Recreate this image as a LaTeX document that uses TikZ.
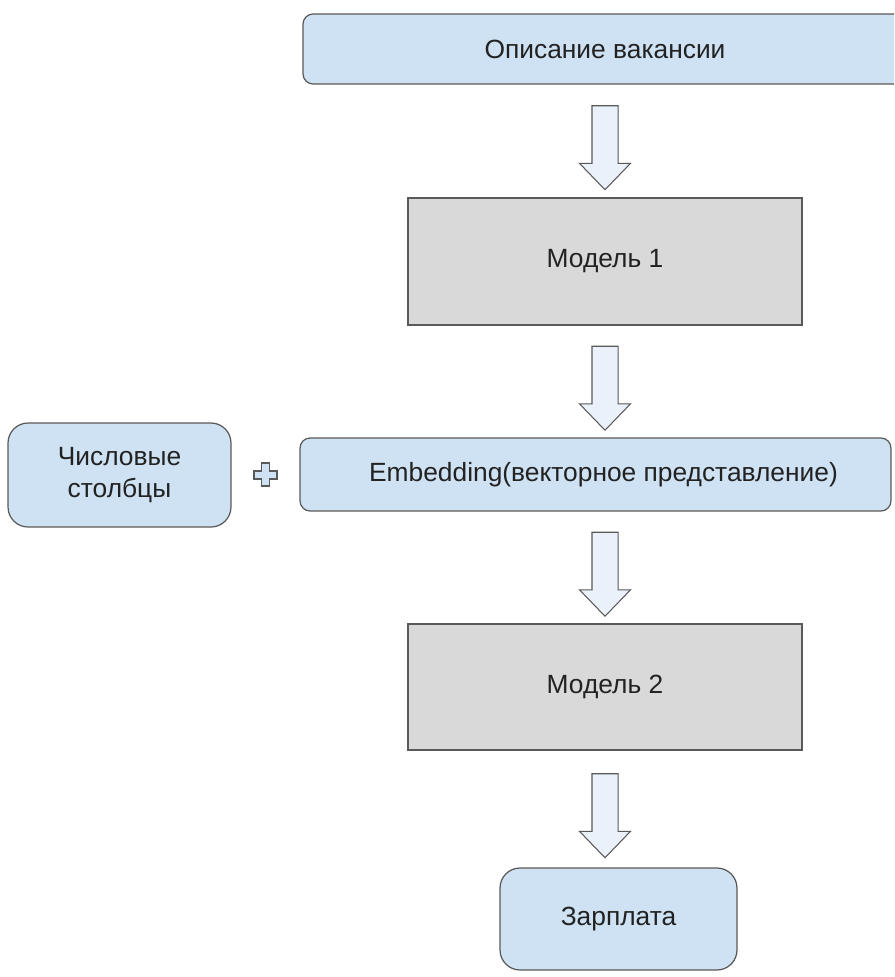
\documentclass[tikz,border=0pt]{standalone}
\usepackage{fontspec}
\setmainfont{Liberation Sans}
\usetikzlibrary{positioning,calc,shapes.arrows}
\definecolor{boxblue}{HTML}{CFE2F3}
\definecolor{boxgray}{HTML}{D9D9D9}
\definecolor{arrowfill}{HTML}{EAF1FA}
\definecolor{edge}{HTML}{595959}
\definecolor{txt}{HTML}{222222}
\begin{document}
\begin{tikzpicture}[x=0.02cm,y=-0.02cm,
  every node/.style={font=\fontsize{15}{18}\selectfont,text=txt,align=center},
  bluebox/.style={draw=edge,line width=0.7pt,fill=boxblue,rounded corners=#1},
  bluebox/.default=0.2cm,
  graybox/.style={draw=edge,line width=0.7pt,fill=boxgray},
  flowarrow/.style={single arrow,draw=edge,line width=0.6pt,fill=arrowfill,
    shape border rotate=270,minimum height=1.68cm,minimum width=1cm,
    inner sep=0.25cm,single arrow head extend=0.25cm,single arrow tip angle=88},
  plusmark/.style={draw=edge,line width=0.9pt,fill=boxblue}]
\clip (0,0) rectangle (894,977);
\node[bluebox,minimum width=12.08cm,minimum height=1.4cm] (desc) at (605,49) {Описание вакансии};
\node[graybox,minimum width=7.88cm,minimum height=2.54cm] (m1) at (605,261.5) {Модель 1};
\node[bluebox,minimum width=11.82cm,minimum height=1.46cm] (embed) at (595.5,474.5) {\hspace*{0.32cm}Embedding(векторное представление)};
\node[bluebox=0.4cm,minimum width=4.46cm,minimum height=2.08cm] (num) at (119.5,475) {Числовые\\столбцы};
\node[graybox,minimum width=7.88cm,minimum height=2.52cm] (m2) at (605,687) {Модель 2};
\node[bluebox=0.4cm,minimum width=4.74cm,minimum height=2.04cm] (salary) at (618.5,919) {Зарплата};
\node[flowarrow] (a1) at ($(desc.south -| m1)!0.5!(m1.north)$) {};
\node[flowarrow] (a2) at ($(m1.south)!0.5!(embed.north -| m1)$) {};
\node[flowarrow] (a3) at ($(embed.south -| m2)!0.5!(m2.north)$) {};
\node[flowarrow] (a4) at ($(m2.south)!0.5!(salary.north -| m2)$) {};
\coordinate (plus) at ($(num.east)!0.5!(embed.west)$);
\draw[plusmark] (plus) ++(-4,-11.5) -- ++(8,0) -- ++(0,7.5) -- ++(7.5,0) -- ++(0,8)
  -- ++(-7.5,0) -- ++(0,7.5) -- ++(-8,0) -- ++(0,-7.5) -- ++(-7.5,0) -- ++(0,-8)
  -- ++(7.5,0) -- cycle;
\end{tikzpicture}
\end{document}
